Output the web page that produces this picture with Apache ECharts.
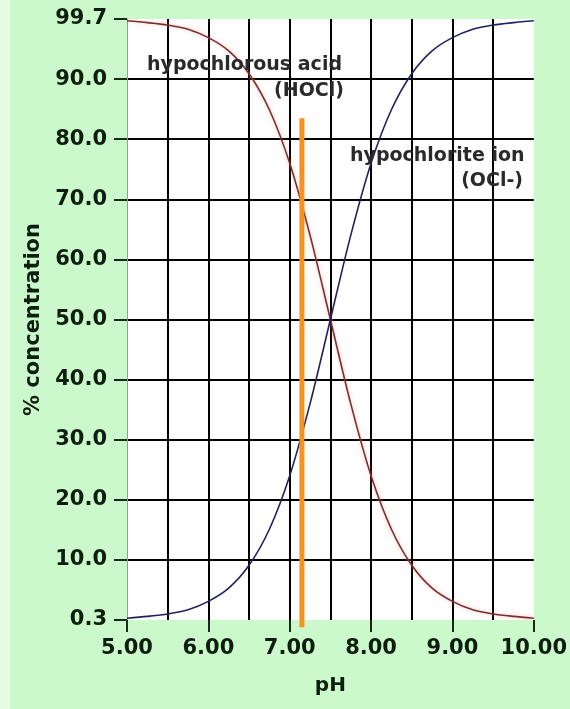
<!DOCTYPE html>
<html>
<head>
<meta charset="utf-8">
<script src="https://cdn.jsdelivr.net/npm/echarts@6/dist/echarts.min.js"></script>
<style>
html,body{margin:0;padding:0;background:#ccf9cc;}
#c{width:570px;height:709px;}
</style>
</head>
<body>
<div id="c"></div>
<script>
var pH = [5.00,5.25,5.50,5.75,6.00,6.25,6.50,6.75,7.00,7.25,7.50,7.75,8.00,8.25,8.50,8.75,9.00,9.25,9.50,9.75,10.00];
var hocl = [99.7,99.4,99.0,98.3,96.9,94.7,90.9,84.9,76.0,64.0,50.0,36.0,24.0,15.1,9.1,5.3,3.1,1.7,1.0,0.6,0.3];
var ocl = [0.3,0.6,1.0,1.7,3.1,5.3,9.1,15.1,24.0,36.0,50.0,64.0,76.0,84.9,90.9,94.7,96.9,98.3,99.0,99.4,99.7];
var markerPH = 7.15;
var markerTop = 83.5;
var markerBottom = -1.2;
var yTickLabels = {0:'0.3',10:'10.0',20:'20.0',30:'30.0',40:'40.0',50:'50.0',60:'60.0',70:'70.0',80:'80.0',90:'90.0',100:'99.7'};

var FONT = '"DejaVu Sans", sans-serif';
var TXT = '#0e1e0e';
var chart = echarts.init(document.getElementById('c'));
chart.setOption({
  backgroundColor: '#ccf9cc',
  animation: false,
  grid: {left: 127, right: 32, top: 19, bottom: 89, show: true, backgroundColor: '#ffffff', borderWidth: 0},
  xAxis: {
    type: 'value', min: 5, max: 10, interval: 1,
    name: 'pH', nameLocation: 'middle', nameGap: 56,
    nameTextStyle: {fontFamily: FONT, fontWeight: 'bold', fontSize: 20, color: TXT},
    axisLine: {show: false},
    axisTick: {show: true, length: 12, lineStyle: {color: '#1a2a1a', width: 2}},
    axisLabel: {fontFamily: FONT, fontWeight: 'bold', fontSize: 21, color: TXT, margin: 18,
      formatter: function(v){ return v.toFixed(2); }},
    splitLine: {show: true, showMinLine: false, showMaxLine: false, lineStyle: {color: '#000', width: 2}},
    minorTick: {show: false, splitNumber: 2},
    minorSplitLine: {show: true, lineStyle: {color: '#000', width: 2}}
  },
  yAxis: {
    type: 'value', min: 0, max: 100, interval: 10,
    name: '% concentration', nameLocation: 'middle', nameGap: 76, nameRotate: 90,
    nameTextStyle: {fontFamily: FONT, fontWeight: 'bold', fontSize: 21, color: TXT},
    axisLine: {show: true, lineStyle: {color: '#9a9a9a', width: 1}},
    axisTick: {show: true, length: 13, lineStyle: {color: '#1a2a1a', width: 2}},
    axisLabel: {fontFamily: FONT, fontWeight: 'bold', fontSize: 21, color: TXT, margin: 20,
      formatter: function(v){ return yTickLabels[v] !== undefined ? yTickLabels[v] : v.toFixed(1); }},
    splitLine: {show: true, showMinLine: false, showMaxLine: false, lineStyle: {color: '#000', width: 2}}
  },
  series: [
    {type: 'line', name: 'HOCl', data: pH.map(function(x,i){return [x,hocl[i]];}), smooth: 0.3, symbol: 'none',
     lineStyle: {color: '#7a2e2e', width: 1.6, shadowColor: 'rgba(255,140,140,0.6)', shadowBlur: 4}, z: 3},
    {type: 'line', name: 'OCl-', data: pH.map(function(x,i){return [x,ocl[i]];}), smooth: 0.3, symbol: 'none',
     lineStyle: {color: '#22225e', width: 1.6}, z: 3},
    {type: 'line', name: 'marker', data: [[markerPH, markerTop],[markerPH, markerBottom]], symbol: 'none', clip: false,
     lineStyle: {color: '#f7921e', width: 5}, z: 4}
  ],
  graphic: [
    {type: 'rect', left: 0, top: 0, shape: {width: 10, height: 709}, style: {fill: '#e6fbe6'}, silent: true, z: -1},
    {type: 'text', left: 147, top: 56, style: {text: 'hypochlorous acid', font: 'bold 19px ' + FONT, fill: '#2a2a2a'}, z: 10},
    {type: 'text', right: 570 - 344, top: 82, style: {text: '(HOCl)', font: 'bold 19px ' + FONT, fill: '#2a2a2a'}, z: 10},
    {type: 'text', left: 350, top: 147, style: {text: 'hypochlorite ion', font: 'bold 19px ' + FONT, fill: '#2a2a2a'}, z: 10},
    {type: 'text', right: 570 - 523, top: 172, style: {text: '(OCl-)', font: 'bold 19px ' + FONT, fill: '#2a2a2a'}, z: 10}
  ]
});
</script>
</body>
</html>
